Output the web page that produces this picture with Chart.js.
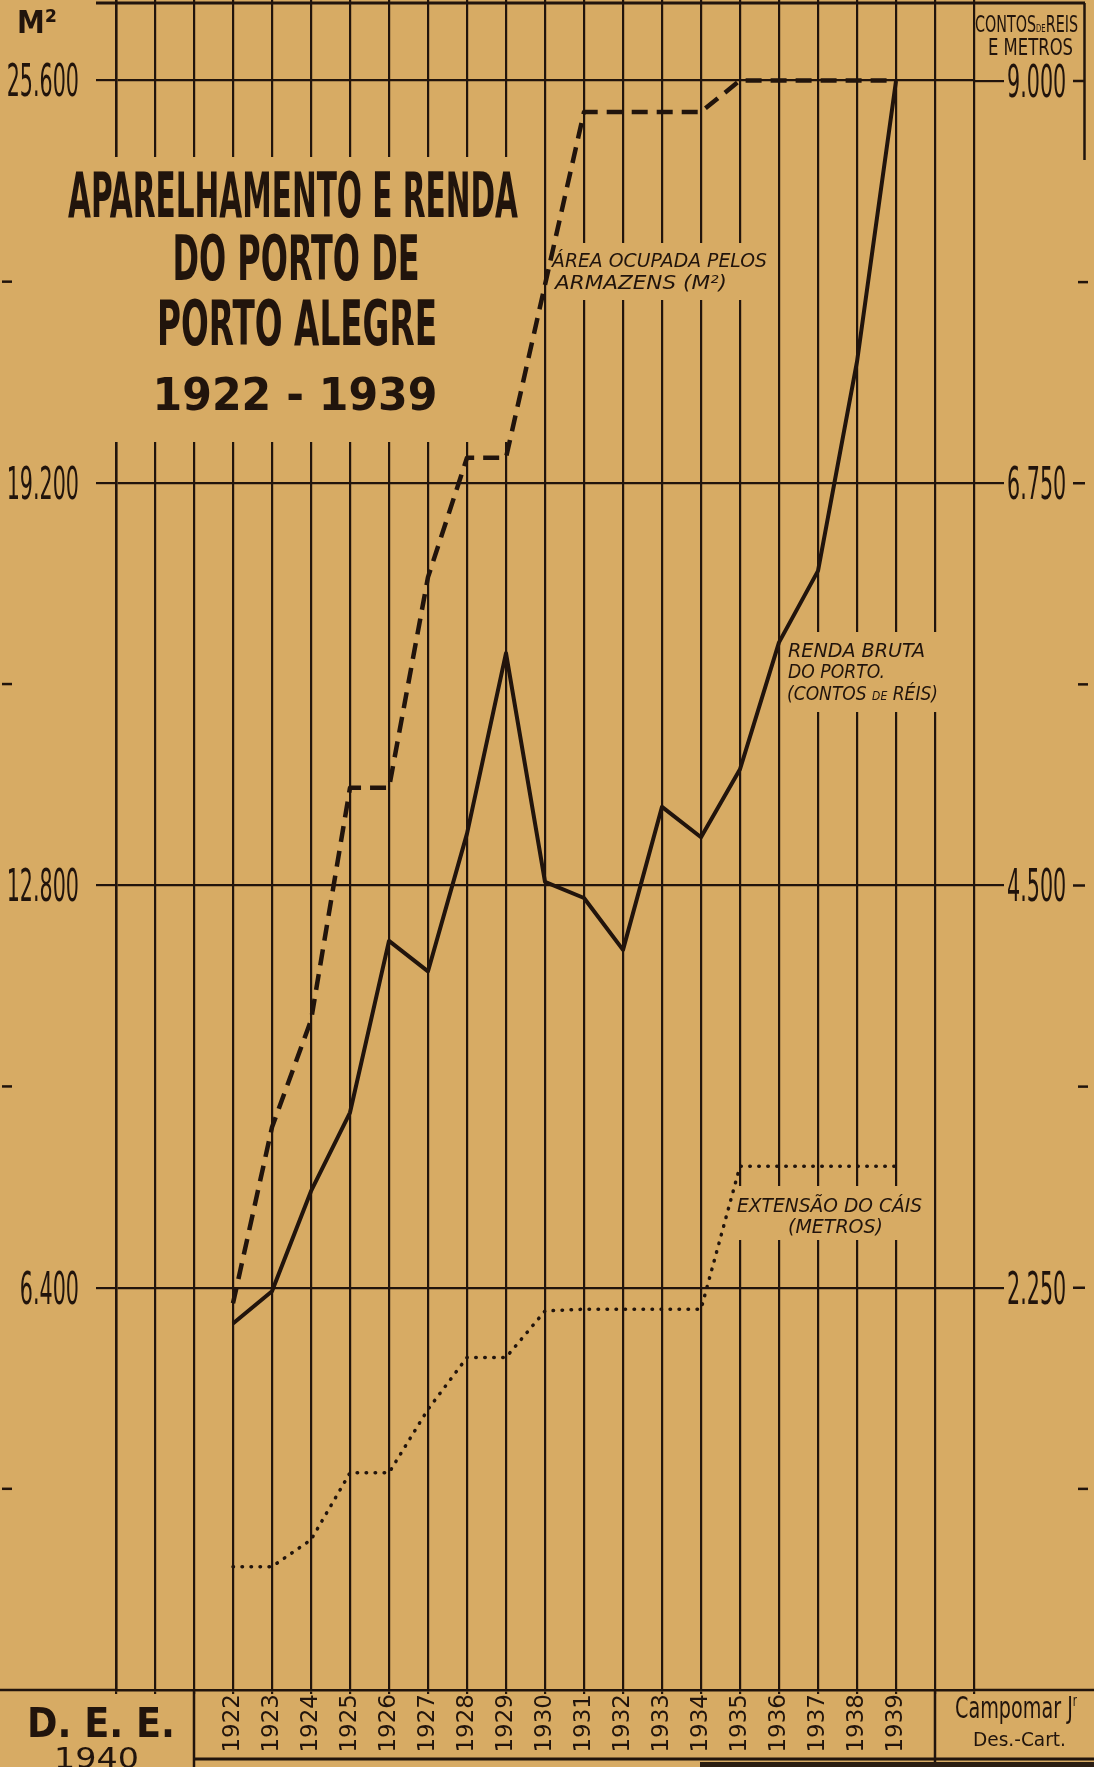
<!DOCTYPE html>
<html>
<head>
<meta charset="utf-8">
<script src="https://cdn.jsdelivr.net/npm/chart.js@4.4.0/dist/chart.umd.min.js"></script>
<style>
html,body{margin:0;padding:0;background:#d7ab64;}
canvas{display:block;}
</style>
</head>
<body>
<canvas id="c" width="1094" height="1767"></canvas>
<script>
// ---- data ----
const years = [1922,1923,1924,1925,1926,1927,1928,1929,1930,1931,1932,1933,1934,1935,1936,1937,1938,1939];
const yearLabels = ['1922','1923','1924','1925','1926','1927','1928','1929','1930','1931','1932','1933','1934','1935','1936','1937','1938','1939'];
const gridYears = [1919,1920,1921,1922,1923,1924,1925,1926,1927,1928,1929,1930,1931,1932,1933,1934,1935,1936,1937,1938,1939,1940,1941];
const areaArmazens = [6150,8950,10650,14350,14350,17700,19600,19600,22350,25100,25100,25100,25100,25600,25600,25600,25600,25600];
const rendaBruta = [2050,2230,2790,3230,4190,4020,4790,5800,4520,4430,4140,4940,4770,5150,5860,6260,7430,9000];
const extensaoCais = [690,690,840,1215,1215,1570,1860,1860,2120,2130,2130,2130,2130,2930,2930,2930,2930,2930];
const leftTicks = [6400,12800,19200,25600];
const leftTickLabels = ['6.400','12.800','19.200','25.600'];
const rightTicks = [2250,4500,6750,9000];
const rightTickLabels = ['2.250','4.500','6.750','9.000'];
const leftMinor = [3200,9600,16000,22400];
const rightMinor = [1125,3375,5625,7875];

const INK = '#21140c';
const BG = '#d7ab64';
const FONT = '"DejaVu Sans", sans-serif';

function fitText(ctx, text, x, y, font, width, align) {
  ctx.save();
  ctx.font = font;
  const w = ctx.measureText(text).width;
  ctx.translate(x, y);
  ctx.scale(width / w, 1);
  ctx.textAlign = align || 'left';
  ctx.textBaseline = 'alphabetic';
  ctx.fillStyle = INK;
  ctx.fillText(text, 0, 0);
  ctx.restore();
}
function scaledText(ctx, text, x, y, font, sx, align) {
  ctx.save();
  ctx.font = font;
  ctx.translate(x, y);
  ctx.scale(sx, 1);
  ctx.textAlign = align || 'left';
  ctx.textBaseline = 'alphabetic';
  ctx.fillStyle = INK;
  ctx.fillText(text, 0, 0);
  ctx.restore();
}
function runsText(ctx, runs, x, y, width) {
  let total = 0;
  runs.forEach(r => { ctx.font = r.f; r.w = ctx.measureText(r.t).width; total += r.w; });
  const s = width / total;
  ctx.save();
  ctx.translate(x, y);
  ctx.scale(s, 1);
  ctx.fillStyle = INK;
  ctx.textAlign = 'left';
  ctx.textBaseline = 'alphabetic';
  let cx = 0;
  runs.forEach(r => { ctx.font = r.f; ctx.fillText(r.t, cx, r.dy || 0); cx += r.w; });
  ctx.restore();
}
function line(ctx, x1, y1, x2, y2, w) {
  ctx.beginPath();
  ctx.moveTo(x1, y1); ctx.lineTo(x2, y2);
  ctx.lineWidth = w; ctx.strokeStyle = INK; ctx.stroke();
}

const decor = {
  id: 'decor',
  beforeDraw(chart) {
    const ctx = chart.ctx;
    ctx.save();
    ctx.fillStyle = BG;
    ctx.fillRect(0, 0, chart.width, chart.height);
    ctx.restore();
  },
  beforeDatasetsDraw(chart) {
    const ctx = chart.ctx;
    ctx.save();
    ctx.fillStyle = BG;
    ctx.fillRect(100, 157, 425, 285);   // title
    ctx.fillRect(549, 243, 229, 57);    // area label
    ctx.fillRect(783, 632, 162, 80);    // renda label
    ctx.fillRect(735, 1186, 193, 54);   // extensao label
    ctx.restore();
  },
  afterDraw(chart) {
    const ctx = chart.ctx;
    const yL = chart.scales.yL, yR = chart.scales.yR, x = chart.scales.x;
    const ca = chart.chartArea;
    ctx.save();
    ctx.lineCap = 'butt';
    // frame lines
    line(ctx, 96, 3, 1085, 3, 3);
    line(ctx, 1084.5, 3, 1084.5, 160, 2.5);
    line(ctx, 0, ca.bottom, ca.left, ca.bottom, 2.5);
    line(ctx, ca.right, ca.bottom, 1094, ca.bottom, 2.5);
    line(ctx, x.getPixelForValue(1921), ca.bottom, x.getPixelForValue(1921), 1767, 2.5);
    line(ctx, x.getPixelForValue(1940), ca.bottom, x.getPixelForValue(1940), 1767, 2.5);
    line(ctx, x.getPixelForValue(1921), 1759, 1094, 1759, 3);
    ctx.fillStyle = '#2a1d12';
    ctx.fillRect(700, 1762, 394, 5);

    // left axis labels
    leftTicks.forEach((v, i) => {
      const py = yL.getPixelForValue(v);
      scaledText(ctx, leftTickLabels[i], 79, py + 16, '44px ' + FONT, 0.47, 'right');
    });
    leftMinor.forEach(v => { const py = yL.getPixelForValue(v); line(ctx, 2, py, 12, py, 2.5); });
    // right axis labels
    rightTicks.forEach((v, i) => {
      const py = yR.getPixelForValue(v);
      scaledText(ctx, rightTickLabels[i], 1007, py + 16, '44px ' + FONT, 0.47, 'left');
      line(ctx, 1073, py, 1085, py, 2.5);
    });
    rightMinor.forEach(v => { const py = yR.getPixelForValue(v); line(ctx, 1078, py, 1088, py, 2.5); });

    // axis titles
    fitText(ctx, 'M²', 17, 33, 'bold 32px ' + FONT, 40, 'left');
    runsText(ctx, [
      {t: 'CONTOS', f: '23px ' + FONT},
      {t: 'DE', f: '11px ' + FONT},
      {t: 'REIS', f: '23px ' + FONT}
    ], 975, 32, 103);
    fitText(ctx, 'E METROS', 988, 55, '23px ' + FONT, 85, 'left');

    // title
    fitText(ctx, 'APARELHAMENTO E RENDA', 293, 217, 'bold 62px ' + FONT, 450, 'center');
    fitText(ctx, 'DO PORTO DE', 296, 280, 'bold 62px ' + FONT, 247, 'center');
    fitText(ctx, 'PORTO ALEGRE', 297, 345, 'bold 62px ' + FONT, 280, 'center');
    fitText(ctx, '1922 - 1939', 295, 410, 'bold 44px ' + FONT, 285, 'center');

    // series annotations
    const it = 'italic 19px ' + FONT;
    fitText(ctx, 'ÁREA OCUPADA PELOS', 552, 267, it, 215, 'left');
    fitText(ctx, 'ARMAZENS (M²)', 555, 289, it, 172, 'left');
    fitText(ctx, 'RENDA BRUTA', 788, 657, it, 137, 'left');
    fitText(ctx, 'DO PORTO.', 788, 678, it, 97, 'left');
    runsText(ctx, [
      {t: '(CONTOS ', f: it},
      {t: 'DE', f: 'italic 12px ' + FONT},
      {t: ' RÉIS)', f: it}
    ], 787, 700, 151);
    fitText(ctx, 'EXTENSÃO DO CÁIS', 737, 1212, it, 185, 'left');
    fitText(ctx, '(METROS)', 788, 1233, it, 95, 'left');

    // bottom boxes
    fitText(ctx, 'D. E. E.', 27, 1737, 'bold 40px ' + FONT, 148, 'left');
    fitText(ctx, '1940', 54, 1768, '28px ' + FONT, 85, 'left');
    runsText(ctx, [
      {t: 'Campomar J', f: '30px ' + FONT},
      {t: 'r', f: '16px ' + FONT, dy: -12}
    ], 955, 1718, 122);
    fitText(ctx, 'Des.-Cart.', 973, 1746, '20px ' + FONT, 93, 'left');
    ctx.restore();
  }
};

const toPts = arr => years.map((yr, i) => ({x: yr, y: arr[i]}));

new Chart(document.getElementById('c'), {
  type: 'line',
  data: {
    datasets: [
      {
        label: 'Área ocupada pelos armazens (m²)',
        data: toPts(areaArmazens),
        yAxisID: 'yL',
        borderColor: INK,
        borderWidth: 4.5,
        borderDash: [16, 9],
        borderCapStyle: 'butt',
        borderJoinStyle: 'round',
        pointRadius: 0,
        tension: 0
      },
      {
        label: 'Renda bruta do porto (contos de réis)',
        data: toPts(rendaBruta),
        yAxisID: 'yR',
        borderColor: INK,
        borderWidth: 4,
        borderJoinStyle: 'round',
        pointRadius: 0,
        tension: 0
      },
      {
        label: 'Extensão do cáis (metros)',
        data: toPts(extensaoCais),
        yAxisID: 'yR',
        borderColor: INK,
        borderWidth: 3.5,
        borderDash: [0.5, 8.5],
        borderCapStyle: 'round',
        pointRadius: 0,
        tension: 0
      }
    ]
  },
  options: {
    responsive: false,
    animation: false,
    devicePixelRatio: 1,
    layout: {padding: {top: 0, left: 0, right: 0, bottom: 0}},
    plugins: {legend: {display: false}, tooltip: {enabled: false}},
    scales: {
      x: {
        type: 'linear',
        min: 1919,
        max: 1941,
        afterBuildTicks: s => { s.ticks = gridYears.map(v => ({value: v})); },
        afterFit: s => { s.height = 77; },
        ticks: {
          autoSkip: false,
          minRotation: 90,
          maxRotation: 90,
          padding: 0,
          color: INK,
          font: {family: '"DejaVu Sans", sans-serif', size: 23},
          callback: v => { const i = years.indexOf(v); return i >= 0 ? yearLabels[i] : ''; }
        },
        grid: {color: INK, lineWidth: 2.2, tickLength: 4},
        border: {display: true, color: INK, width: 2.5}
      },
      yL: {
        type: 'linear',
        position: 'left',
        min: 0,
        max: 26880,
        afterBuildTicks: s => { s.ticks = leftTicks.map(v => ({value: v})); },
        afterFit: s => { s.width = 116; },
        ticks: {display: false},
        grid: {color: INK, lineWidth: 2.2, tickLength: 20},
        border: {display: true, color: INK, width: 2.5}
      },
      yR: {
        type: 'linear',
        position: 'right',
        min: 0,
        max: 9453,
        afterBuildTicks: s => { s.ticks = rightTicks.map(v => ({value: v})); },
        afterFit: s => { s.width = 120; },
        ticks: {display: false},
        grid: {color: INK, lineWidth: 2.2, tickLength: 30, drawOnChartArea: false},
        border: {display: false}
      }
    }
  },
  plugins: [decor]
});
</script>
</body>
</html>
